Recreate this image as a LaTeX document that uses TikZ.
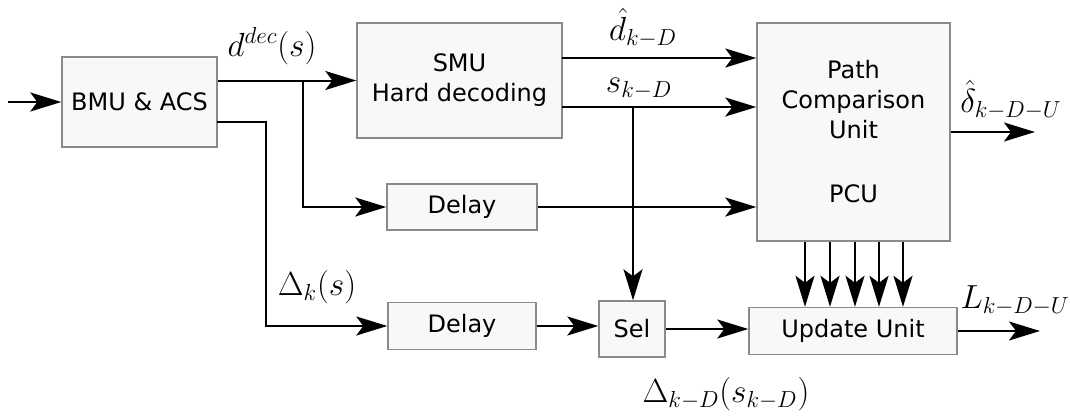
\documentclass[tikz,border=0pt]{standalone}
\usepackage{fontspec}
\setsansfont{DejaVu Sans}
\usetikzlibrary{arrows.meta}
\definecolor{boxfill}{HTML}{F8F8F8}
\definecolor{boxline}{HTML}{8A8A8A}
\tikzset{
  blk/.style={draw=boxline, fill=boxfill, line width=1.4pt, inner sep=0pt,
    font=\sffamily\fontsize{24}{30}\selectfont, align=center},
  arr/.style={line width=2pt, -{Stealth[length=31pt,width=19pt,inset=7pt]}},
  lab/.style={anchor=base, inner sep=0pt, scale=1.61, transform shape,
    font=\fontsize{20.74}{25}\selectfont}
}
\begin{document}
\begin{tikzpicture}[x=1pt,y=-1pt]
\useasboundingbox (0,0) rectangle (1070,415);
% blocks
\node[blk, minimum width=155pt, minimum height=90pt] (bmu) at (139.5,102) {BMU \& ACS};
\node[blk, minimum width=205pt, minimum height=115pt] (smu) at (459.5,80.5) {SMU\\Hard decoding};
\node[blk, minimum width=193pt, minimum height=218pt] (pcu) at (853.5,132) {Path\\Comparison\\Unit\\[34pt]PCU};
\node[blk, minimum width=150pt, minimum height=46pt] (d1) at (462,207) {Delay};
\node[blk, minimum width=148pt, minimum height=47pt] (d2) at (462,326) {Delay};
\node[blk, minimum width=66pt, minimum height=56pt] (sel) at (632,329) {Sel};
\node[blk, minimum width=208pt, minimum height=47pt] (upd) at (853,331) {Update Unit};
% coordinates
\coordinate (in) at (8,102);
\coordinate (bo2) at (217,122);
\coordinate (bd2) at (266,122);
\coordinate (br1) at (303,81);
\coordinate (so1) at (562,58);
\coordinate (so2) at (562,107);
\coordinate (br2) at (633,107);
\coordinate (o1) at (1035,132);
\coordinate (o2) at (1040,331);
% connectors
\draw[arr] (in) -- (bmu.west);
\draw[arr] (bmu.east |- smu.west) -- (smu.west);
\draw[arr] (br1) |- (d1.west);
\draw[arr] (bo2) -- (bd2) |- (d2.west);
\draw[arr] (so1) -- (pcu.west |- so1);
\draw[arr] (so2) -- (pcu.west |- so2);
\draw[arr] (br2) -- (br2 |- sel.north);
\draw[arr] (d1.east) -- (pcu.west |- d1.east);
\draw[arr] (d2.east) -- (sel.west |- d2.east);
\draw[arr] (sel.east) -- (upd.west |- sel.east);
\draw[arr] (pcu.east) -- (o1);
\draw[arr] (upd.east) -- (o2);
\foreach \x in {805,830,855,879,903}
  \draw[arr] (pcu.south -| \x,0) -- (upd.north -| \x,0);
% labels
\node[lab] (ldec) at (272,56) {$d^{dec}(s)$};
\node[lab] (ldh) at (643,40) {$\hat{d}_{k-D}$};
\node[lab] (ls) at (639,92) {$s_{k-D}$};
\node[lab] (ldel) at (1011,112) {$\hat{\delta}_{k-D-U}$};
\node[lab] (lL) at (1015,308) {$L_{k-D-U}$};
\node[lab] (lDk) at (317,295) {$\Delta_k(s)$};
\node[lab] (lDkD) at (726,402) {$\Delta_{k-D}(s_{k-D})$};
\end{tikzpicture}
\end{document}
